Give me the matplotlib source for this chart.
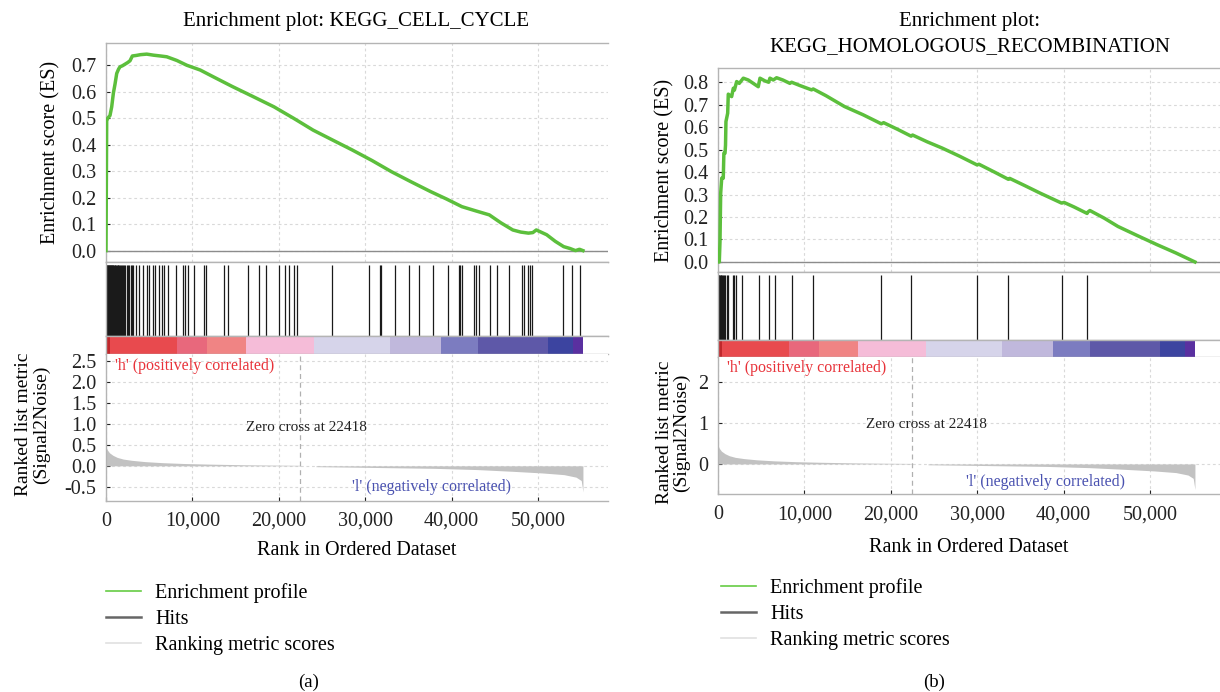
import matplotlib
matplotlib.use("Agg")
import matplotlib.pyplot as plt
from matplotlib.lines import Line2D
from matplotlib.ticker import FuncFormatter

plt.rcParams['font.family'] = ['Liberation Serif', 'DejaVu Serif']

# ---------------- data ----------------
N_GENES = 55200
ZERO_CROSS = 22418

# Panel (a) KEGG_CELL_CYCLE running enrichment score
es_a_rank = [0, 40, 80, 200, 460, 660, 850, 1050, 1240, 1450, 1620, 1900, 2200, 2500, 2780,
             3050, 3500, 4000, 4720, 5500, 6300, 7030, 8200, 9350, 10900, 12500, 14600, 17000,
             19440, 21700, 23970, 26200, 28500, 30800, 33040, 35300, 37560, 39400, 41190, 42800,
             44360, 45700, 47080, 48000, 48890, 49400, 49800, 51000, 52000, 52970, 53700, 54340,
             54800, 55200]
es_a_val = [0.0, 0.25, 0.49, 0.50, 0.51, 0.543, 0.594, 0.63, 0.669, 0.685, 0.694, 0.698, 0.704,
            0.71, 0.717, 0.735, 0.737, 0.74, 0.742, 0.738, 0.735, 0.732, 0.718, 0.70, 0.682, 0.655,
            0.62, 0.582, 0.543, 0.50, 0.455, 0.418, 0.38, 0.34, 0.298, 0.26, 0.223, 0.195, 0.166,
            0.15, 0.135, 0.105, 0.078, 0.07, 0.066, 0.068, 0.078, 0.06, 0.035, 0.015, 0.008, 0.0,
            0.005, 0.0]
hits_a = [30, 80, 130, 180, 240, 300, 350, 410, 470, 530, 600, 660, 720, 790, 860, 930, 1010,
          1090, 1170, 1260, 1350, 1440, 1530, 1640, 1750, 1860, 1980, 2100, 2240, 2380, 2520,
          2680, 2850, 3000, 3130, 3476, 3863, 4250, 4713, 5020, 5408, 5678, 6180, 6450, 6760,
          7146, 8111, 8960, 9190, 9540, 10230, 11390, 11600, 13710, 14170, 16410, 17730, 18500,
          20050, 20740, 21200, 21780, 22100, 26150, 30475, 31670, 31830, 33400, 35030, 36270,
          37890, 39630, 40820, 41020, 41250, 42600, 42840, 43190, 44410, 45310, 46660, 48170,
          48400, 48820, 49020, 49250, 52920, 53960, 54890]

# Panel (b) KEGG_HOMOLOGOUS_RECOMBINATION running enrichment score
es_b_rank = [0, 150, 230, 310, 430, 610, 680, 810, 870, 920, 1120, 1190, 1580, 1770, 1900, 2160,
             2460, 2930, 3500, 4660, 4860, 5430, 5860, 6010, 6400, 6780, 7500, 8320, 8520, 9500,
             10830, 11020, 12500, 14630, 16800, 18900, 19170, 20800, 22350, 22520, 24200, 25940,
             28000, 29980, 30200, 32000, 33600, 33760, 35500, 37250, 39770, 40050, 41200, 42720,
             42740, 43040, 44700, 46290, 48500, 50810, 53000, 55200]
es_b_val = [0.0, 0.0, 0.09, 0.306, 0.373, 0.373, 0.484, 0.484, 0.52, 0.625, 0.662, 0.747, 0.736,
            0.773, 0.765, 0.803, 0.795, 0.818, 0.81, 0.78, 0.818, 0.806, 0.80, 0.818, 0.81, 0.82,
            0.81, 0.795, 0.80, 0.785, 0.766, 0.77, 0.74, 0.692, 0.655, 0.615, 0.62, 0.59, 0.56,
            0.565, 0.535, 0.507, 0.47, 0.432, 0.435, 0.40, 0.368, 0.372, 0.34, 0.307, 0.262, 0.265,
            0.245, 0.216, 0.22, 0.229, 0.195, 0.158, 0.118, 0.077, 0.04, 0.0]
hits_b = [60, 150, 230, 310, 380, 460, 560, 650, 810, 1000, 1120, 1700, 1890, 2120, 2810, 4770,
          5860, 6630, 8520, 11020, 18920, 22350, 29980, 33600, 39770, 42740]

# Shared ranked list metric (Signal2Noise)
metric_rank = [0, 150, 400, 800, 1300, 2000, 3000, 4500, 6500, 9000, 12000, 16000, 19000, 22418,
               22419, 24300, 24301, 28000, 33000, 38000, 43000, 47000, 50500, 53000, 54400, 55000,
               55200]
metric_val = [0.45, 0.38, 0.31, 0.25, 0.2, 0.16, 0.13, 0.1, 0.075, 0.055, 0.04, 0.025, 0.018,
              0.012, 0.0, 0.0, -0.02, -0.03, -0.045, -0.06, -0.09, -0.13, -0.17, -0.21, -0.27,
              -0.35, -0.62]

# Phenotype colour bar
cb_edges = [0, 460, 8230, 11700, 16200, 24100, 32900, 38800, 43100, 51100, 54000, 55200]
cb_colors = ['#c0282c', '#e84a4e', '#e8687c', '#f08484', '#f5bcd8', '#d6d4ea', '#c0b8dc',
             '#7c7cc0', '#5e58a8', '#3c44a0', '#5a30a0']

x_ticks = [0, 10000, 20000, 30000, 40000, 50000]
es_ticks_a = [0.0, 0.1, 0.2, 0.3, 0.4, 0.5, 0.6, 0.7]
es_ticks_b = [0.0, 0.1, 0.2, 0.3, 0.4, 0.5, 0.6, 0.7, 0.8]
met_ticks_a = [-0.5, 0.0, 0.5, 1.0, 1.5, 2.0, 2.5]
met_ticks_b = [0, 1, 2]

# ---------------- drawing ----------------
W, H = 1220, 692
fig = plt.figure(figsize=(W / 100, H / 100), dpi=100)

GREEN = '#5cbf3c'
SPINE = '#b4b4b4'
GRID = dict(color='#d9d9d9', linestyle=(0, (2.5, 2.5)), linewidth=0.8)
XLIM = (0, 58100)
TICK_FS = 14.5


def rect(x0, y0, x1, y1):
    return [x0 / W, 1 - y1 / H, (x1 - x0) / W, (y1 - y0) / H]


def style(ax):
    for s in ax.spines.values():
        s.set_color(SPINE)
        s.set_linewidth(1.0)
    ax.spines['right'].set_visible(False)
    ax.tick_params(colors='#222222', labelsize=TICK_FS, direction='in', length=3, width=0.8,
                   pad=7)


def panel(X0, X1, ys, es_rank, es_val, hits, es_ticks, es_lim, met_ticks, met_fmt, met_lim,
          lab):
    y_es0, y_hit0, y_cb0, y_m0, y_m1 = ys
    # Enrichment score axis
    ax1 = fig.add_axes(rect(X0, y_es0, X1, y_hit0))
    style(ax1)
    ax1.set_xlim(*XLIM)
    ax1.set_ylim(*es_lim)
    ax1.set_xticks(x_ticks)
    ax1.set_xticklabels([])
    ax1.tick_params(axis='x', length=0)
    ax1.set_yticks(es_ticks)
    ax1.set_yticklabels([f'{t:.1f}' for t in es_ticks])
    ax1.grid(True, **GRID)
    ax1.axhline(0, color='#8c8c8c', lw=1.0, zorder=2)
    ax1.plot(es_rank, es_val, color=GREEN, lw=2.5, zorder=3)
    ax1.set_ylabel('Enrichment score (ES)', fontsize=14.5)
    ax1.yaxis.set_label_coords(lab['es_lab_x'], 0.5)

    # Hits axis
    ax2 = fig.add_axes(rect(X0, y_hit0, X1, y_cb0))
    style(ax2)
    ax2.set_xlim(*XLIM)
    ax2.set_ylim(0, 1)
    ax2.set_xticks([])
    ax2.set_yticks([])
    ax2.vlines(hits, 0, 0.96, color='#1a1a1a', lw=0.9)

    # Colour bar axis
    ax3 = fig.add_axes(rect(X0, y_cb0, X1, y_m0))
    style(ax3)
    ax3.set_xlim(*XLIM)
    ax3.set_ylim(0, 1)
    ax3.set_xticks([])
    ax3.set_yticks([])
    widths = [b - a for a, b in zip(cb_edges[:-1], cb_edges[1:])]
    ax3.bar(cb_edges[:-1], [1] * len(widths), width=widths, align='edge', bottom=0,
            color=cb_colors, linewidth=0)

    # Ranked metric axis
    ax4 = fig.add_axes(rect(X0, y_m0, X1, y_m1))
    style(ax4)
    ax4.spines['top'].set_visible(False)
    ax4.set_xlim(*XLIM)
    ax4.set_ylim(*met_lim)
    ax4.set_xticks(x_ticks)
    ax4.xaxis.set_major_formatter(FuncFormatter(lambda v, p: f'{int(v):,}'))
    ax4.tick_params(axis='x', pad=8)
    ax4.set_yticks(met_ticks)
    ax4.set_yticklabels([met_fmt.format(t) for t in met_ticks])
    ax4.grid(True, **GRID)
    ax4.fill_between(metric_rank, metric_val, 0, color='#c2c2c2', lw=0, zorder=2)
    ax4.axvline(ZERO_CROSS, color='#b0b0b0', lw=0.9, linestyle=(0, (4, 3)), zorder=3)
    ax4.set_xlabel('Rank in Ordered Dataset', fontsize=14.5)
    ax4.xaxis.set_label_coords(0.5, lab['x_lab_y'])
    ax4.set_ylabel('Ranked list metric\n(Signal2Noise)', fontsize=14, linespacing=1.0)
    ax4.yaxis.set_label_coords(lab['m_lab_x'], lab['m_lab_yc'])
    ax4.text(lab['h_pos'][0], lab['h_pos'][1], "'h' (positively correlated)", color='#e8333a',
             fontsize=11.5, ha='left', va='center')
    ax4.text(lab['z_pos'][0], lab['z_pos'][1], f'Zero cross at {ZERO_CROSS}', color='#222222',
             fontsize=11, ha='center', va='center')
    ax4.text(lab['l_pos'][0], lab['l_pos'][1], "'l' (negatively correlated)", color='#4a52b0',
             fontsize=11.5, ha='left', va='center')

    # Legend
    handles = [Line2D([], [], color='#66cc44', lw=1.2),
               Line2D([], [], color='#666666', lw=1.8),
               Line2D([], [], color='#e0e0e0', lw=1.2)]
    names = ['Enrichment profile', 'Hits', 'Ranking metric scores']
    lx, ly = lab['leg']
    fig.legend(handles, names, loc='upper left', bbox_to_anchor=(lx / W, 1 - ly / H),
               frameon=False, fontsize=14.5, handlelength=1.75, handletextpad=0.7,
               labelspacing=0.35, borderpad=0, borderaxespad=0)
    return ax1, ax4


panel(106, 608, (43, 262, 336, 354, 500.7), es_a_rank, es_a_val, hits_a, es_ticks_a,
      (-0.043, 0.784), met_ticks_a, '{:.1f}', (-0.83, 2.66),
      dict(es_lab_x=-0.09, x_lab_y=-0.275, m_lab_x=-0.112, m_lab_yc=0.52,
           h_pos=(1000, 2.38), z_pos=(23175, 0.9), l_pos=(28500, -0.5),
           leg=(106, 583)))

panel(718, 1220, (68.3, 272.3, 340, 357.3, 494), es_b_rank, es_b_val, hits_b, es_ticks_b,
      (-0.046, 0.862), met_ticks_b, '{:d}', (-0.73, 2.59),
      dict(es_lab_x=-0.086, x_lab_y=-0.32, m_lab_x=-0.056, m_lab_yc=0.45,
           h_pos=(1000, 2.32), z_pos=(24160, 0.97), l_pos=(28670, -0.43),
           leg=(721, 578)))

# Titles and captions
fig.text(356 / W, 1 - 21.7 / H, 'Enrichment plot: KEGG_CELL_CYCLE', ha='center', va='center',
         fontsize=15)
fig.text(970 / W, 1 - 21.7 / H, 'Enrichment plot:', ha='center', va='center', fontsize=15)
fig.text(970 / W, 1 - 46.7 / H, 'KEGG_HOMOLOGOUS_RECOMBINATION', ha='center', va='center',
         fontsize=15)
fig.text(309 / W, 1 - 682 / H, '(a)', ha='center', va='center', fontsize=13.5)
fig.text(934 / W, 1 - 682 / H, '(b)', ha='center', va='center', fontsize=13.5)

fig.savefig('out.png', dpi=100)
